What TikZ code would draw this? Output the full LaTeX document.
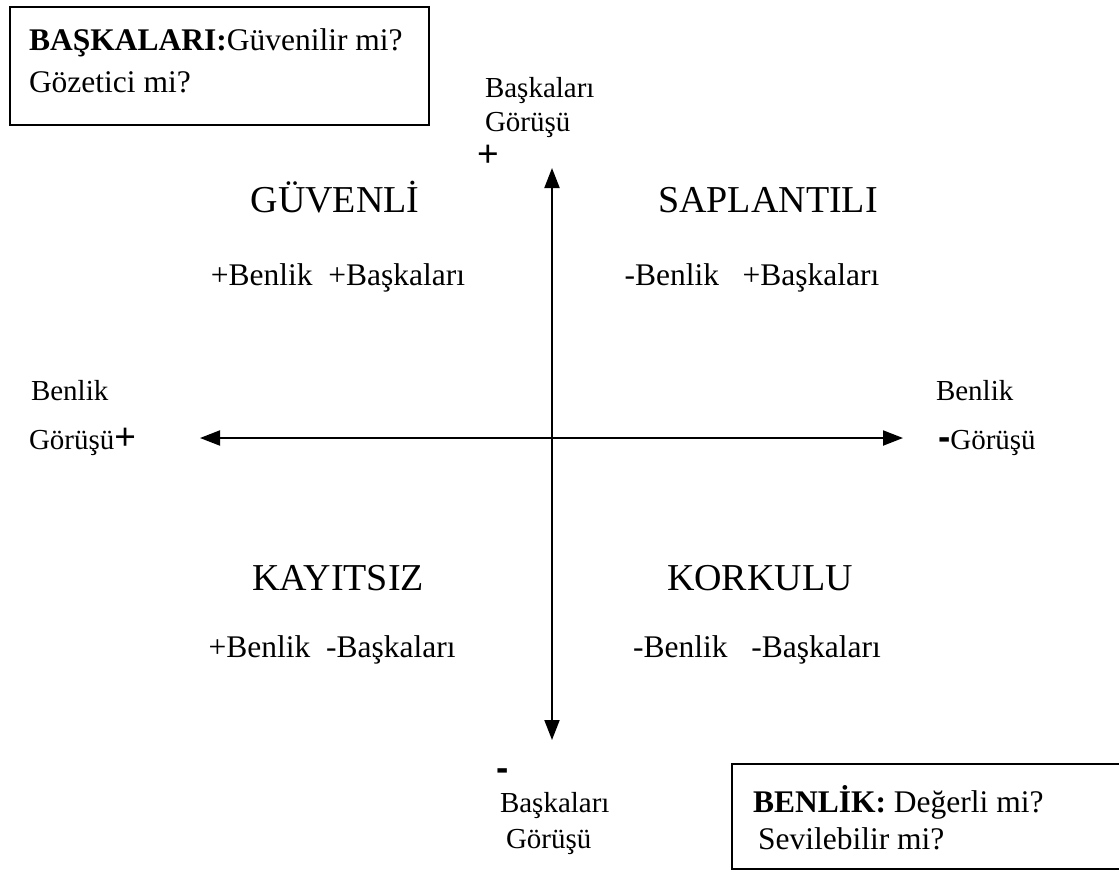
\documentclass[tikz,border=0pt]{standalone}
\usepackage{fontspec}
\setmainfont{Liberation Serif}
\setsansfont{Liberation Sans}
\usetikzlibrary{arrows.meta,positioning}

\begin{document}
\begin{tikzpicture}[x=0.4pt, y=-0.4pt, line width=0.8pt,
  kutu/.style={draw, inner sep=0pt},
  eksen/.style={{Triangle[length=8pt,width=6pt]}-{Triangle[length=8pt,width=6pt]}},
  baslik/.style={font=\fontsize{15.2}{17}\selectfont, anchor=base, inner sep=0pt},
  ifade/.style={font=\fontsize{12.6}{15}\selectfont, anchor=base, inner sep=0pt},
  kutuyazi/.style={font=\fontsize{12.6}{15}\selectfont, anchor=base west, inner sep=0pt},
  etiket/.style={font=\fontsize{11.6}{14}\selectfont, anchor=base west, inner sep=0pt},
  isaret/.style={font=\sffamily\fontsize{14.8}{17}\selectfont, inner sep=0pt}]
\useasboundingbox (0,0) rectangle (1119,881);
% kutular
\node[kutu, minimum width=167.6pt, minimum height=47pt, anchor=north west] (kb) at (9,6) {};
\node[kutu, minimum width=170pt, minimum height=42pt, anchor=north west] (kbn) at (731,763) {};
\node[kutuyazi] (kb1) at (28,50) {\textbf{BAŞKALARI:}Güvenilir mi?};
\node[kutuyazi] (kb2) at (28,92) {Gözetici mi?};
\node[kutuyazi] (kbn1) at (752,812) {\textbf{BENLİK:} Değerli mi?};
\node[kutuyazi] (kbn2) at (757,849) {Sevilebilir mi?};
% eksenler
\coordinate (ust) at (552,168);
\coordinate (alt) at (552,740);
\coordinate (sol) at (200,438);
\coordinate (sag) at (903,438);
\draw[eksen] (alt) -- (ust);
\draw[eksen] (sol) -- (sag);
% eksen etiketleri
\node[etiket] (ub) at (484,97) {Başkaları};
\node[etiket] (ug) at (484,131) {Görüşü};
\node[isaret] (uarti) at (488,156) {+};
\node[etiket] (sb) at (30,400) {Benlik};
\node[etiket] (sg) at (28,449) {Görüşü{\sffamily\fontsize{14.8}{17}\selectfont+}};
\node[etiket] (rb) at (935,400) {Benlik};
\node[etiket] (rg) at (937,449) {{\sffamily\bfseries\fontsize{14.8}{17}\selectfont-}Görüşü};
\node[isaret, font=\sffamily\bfseries\fontsize{14.8}{17}\selectfont] (aeksi) at (503,775) {-};
\node[etiket] (ab) at (499,812) {Başkaları};
\node[etiket] (ag) at (505,848) {Görüşü};
% bolgeler
\node[baslik] (guvenli) at (335,212) {GÜVENLİ};
\node[baslik] (saplantili) at (768,212) {SAPLANTILI};
\node[baslik] (kayitsiz) at (338,590) {KAYITSIZ};
\node[baslik] (korkulu) at (760,590) {KORKULU};
\node[ifade] (g1) at (338,285) {+Benlik\ \ +Başkaları};
\node[ifade] (s1) at (752,285) {-Benlik\ \ \ +Başkaları};
\node[ifade] (k1) at (332,657) {+Benlik\ \ -Başkaları};
\node[ifade] (o1) at (757,657) {-Benlik\ \ \ -Başkaları};
\end{tikzpicture}
\end{document}
